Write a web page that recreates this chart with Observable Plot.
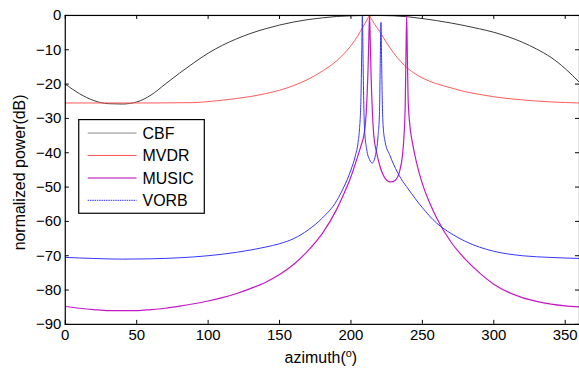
<!DOCTYPE html>
<html>
<head>
<meta charset="utf-8">
<script src="https://cdn.jsdelivr.net/npm/d3@7"></script>
<script src="https://cdn.jsdelivr.net/npm/@observablehq/plot@0.6"></script>
<style>
  html, body { margin: 0; padding: 0; background: #fff; overflow: hidden; }
  #chart { width: 579px; height: 370px; overflow: hidden; position: relative; }
</style>
</head>
<body>
<div id="chart"></div>
<script>
const xTicks = [0, 50, 100, 150, 200, 250, 300, 350];
const yTicks = [0, -10, -20, -30, -40, -50, -60, -70, -80, -90];
const seriesNames = ["CBF", "MVDR", "MUSIC", "VORB"];

const azCBF = [0,10,20,30,40,50,60,70,80,90,100,110,120,130,140,150,160,170,180,190,200,210,220,230,240,250,260,270,280,290,300,310,320,330,340,350,360];
const dbCBF = [-20,-22.8,-24.8,-25.7,-25.8,-25.2,-23.2,-20,-16.8,-13.8,-11,-8.7,-6.8,-5.2,-3.9,-2.8,-1.9,-1.2,-0.7,-0.3,-0.1,0,0,-0.1,-0.4,-0.9,-1.5,-2.2,-3,-3.9,-4.9,-6.2,-7.8,-9.8,-12.2,-15.5,-19.5];

const azMVDR = [0,30,60,90,100,110,120,130,140,150,160,170,180,190,200,205,208,210,212,213,214,216,218,220,225,230,240,250,260,270,280,290,300,320,340,360];
const dbMVDR = [-25.5,-25.5,-25.5,-25.4,-25.1,-24.7,-24.2,-23.6,-22.8,-21.8,-20.4,-18.6,-16.2,-13.2,-8.8,-5.8,-3.6,-2.2,-0.7,0,-0.8,-2.2,-3.4,-4.6,-8,-11,-15.5,-18.2,-19.9,-21.1,-22.2,-23,-23.7,-24.6,-25.2,-25.5];

const azMUSIC = [0,10,20,30,40,50,60,70,80,90,100,110,120,130,140,150,160,170,180,190,195,200,204,207,209,210,211,212,212.5,213,213.5,214,215,216,218,220,222,225,228,231,234,236,237,238,238.5,239,239.5,240,241,243,246,250,255,260,270,280,290,300,310,320,330,340,350,360];
const dbMUSIC = [-84.8,-85.3,-85.7,-86,-86,-86,-85.7,-85.3,-84.7,-84,-83.2,-82.2,-81,-79.5,-77.8,-75.5,-72.5,-68.5,-63.5,-56.5,-52,-47,-42,-38,-35,-32,-26,-15,-7,0,-7,-16,-28,-35,-40,-43.5,-46,-48,-48.5,-48,-45.5,-41,-36,-26,-12,0,-12,-24,-31,-37,-43,-49,-54.5,-59,-66,-71,-75,-78.3,-80.6,-82.2,-83.3,-84.1,-84.6,-84.9];

const azVORB = [0,20,40,60,80,100,120,140,150,160,170,180,190,195,200,203,205,206,207,207.5,208,208.5,209,209.5,211,213,215,217,219,220,220.5,221,221.5,222,222.5,224,227,230,235,240,250,260,270,280,290,300,320,340,360];
const dbVORB = [-70.5,-70.8,-71,-70.9,-70.6,-70,-69,-67.5,-66.5,-65,-62.5,-59,-54,-50,-45,-41,-37,-33,-24,-12,0,-14,-26,-33,-39,-42,-43,-41,-35,-28,-14,-2,-14,-26,-32,-37,-40.5,-43.5,-47.5,-50.5,-56,-60.5,-63.5,-65.8,-67.5,-68.7,-70,-70.5,-70.8];

const colors = {CBF: "#3a3a3a", MVDR: "#ff5a5a", MUSIC: "#c418c4", VORB: "#3535ff"};
const legendColors = {CBF: "#8a8a8a", MVDR: "#ff5050", MUSIC: "#d77fd7", VORB: "#2f2fff"};

const table = (name, az, db) => az.map((a, i) => ({series: name, az: a, db: db[i]}));
const data = [
  ...table("CBF", azCBF, dbCBF),
  ...table("MVDR", azMVDR, dbMVDR),
  ...table("MUSIC", azMUSIC, dbMUSIC),
  ...table("VORB", azVORB, dbVORB)
];

const W = 581, H = 370, mL = 65, mR = 0, mT = 15, mB = 45;
const innerW = W - mL - mR, innerH = H - mT - mB;
const tk = 4;

const chart = Plot.plot({
  width: W, height: H,
  marginLeft: mL, marginRight: mR, marginTop: mT, marginBottom: mB,
  x: {domain: [0, 360], ticks: xTicks, tickSize: 0, tickPadding: 5, label: null},
  y: {domain: [-90, 0], ticks: yTicks, tickSize: 0, tickPadding: 4, label: null},
  style: {fontFamily: "'Liberation Sans', Arial, sans-serif", fontSize: "15px", background: "#fff", color: "#000"},
  marks: [
    Plot.line(data.filter(d => d.series === "CBF"), {x: "az", y: "db", stroke: colors.CBF, strokeWidth: 1, curve: "monotone-x"}),
    Plot.line(data.filter(d => d.series === "MVDR"), {x: "az", y: "db", stroke: colors.MVDR, strokeWidth: 1, curve: "monotone-x"}),
    Plot.line(data.filter(d => d.series === "MUSIC"), {x: "az", y: "db", stroke: colors.MUSIC, strokeWidth: 1.2, curve: "monotone-x"}),
    Plot.line(data.filter(d => d.series === "VORB"), {x: "az", y: "db", stroke: colors.VORB, strokeWidth: 1, curve: "monotone-x"}),
    Plot.ruleX(xTicks, {x: d => d, insetTop: innerH - tk, stroke: "#000"}),
    Plot.ruleX(xTicks, {x: d => d, insetBottom: innerH - tk, stroke: "#000"}),
    Plot.ruleY(yTicks, {y: d => d, insetRight: innerW - tk, stroke: "#000"}),
    Plot.ruleY(yTicks, {y: d => d, insetLeft: innerW - tk, stroke: "#000"}),
    Plot.frame({stroke: "#000", strokeWidth: 1.2})
  ]
});

const svg = d3.select(chart);
// axis titles
const xt = svg.append("text")
  .attr("x", 322).attr("y", H - 6)
  .attr("text-anchor", "middle")
  .style("font-size", "16px");
xt.append("tspan").text("azimuth(");
xt.append("tspan").attr("baseline-shift", "super").style("font-size", "11px").text("o");
xt.append("tspan").text(")");

svg.append("text")
  .attr("transform", `translate(25, ${mT + innerH / 2 + 3}) rotate(-90)`)
  .attr("text-anchor", "middle")
  .style("font-size", "16px")
  .text("normalized power(dB)");

// legend
const lg = svg.append("g");
lg.append("rect").attr("x", 79).attr("y", 120).attr("width", 126).attr("height", 94)
  .attr("fill", "#fff").attr("stroke", "#000").attr("stroke-width", 1.2);
seriesNames.forEach((name, i) => {
  const cy = 133.5 + i * 22.5;
  lg.append("line").attr("x1", 88).attr("x2", 137).attr("y1", cy).attr("y2", cy)
    .attr("stroke", legendColors[name])
    .attr("stroke-width", name === "MUSIC" ? 2 : 1)
    .attr("stroke-dasharray", name === "VORB" ? "1.5,0.8" : null);
  lg.append("text").attr("x", 143).attr("y", cy + 6)
    .attr("text-anchor", "start")
    .style("font-size", "16px").text(name);
});

document.getElementById("chart").appendChild(chart);
</script>
</body>
</html>
